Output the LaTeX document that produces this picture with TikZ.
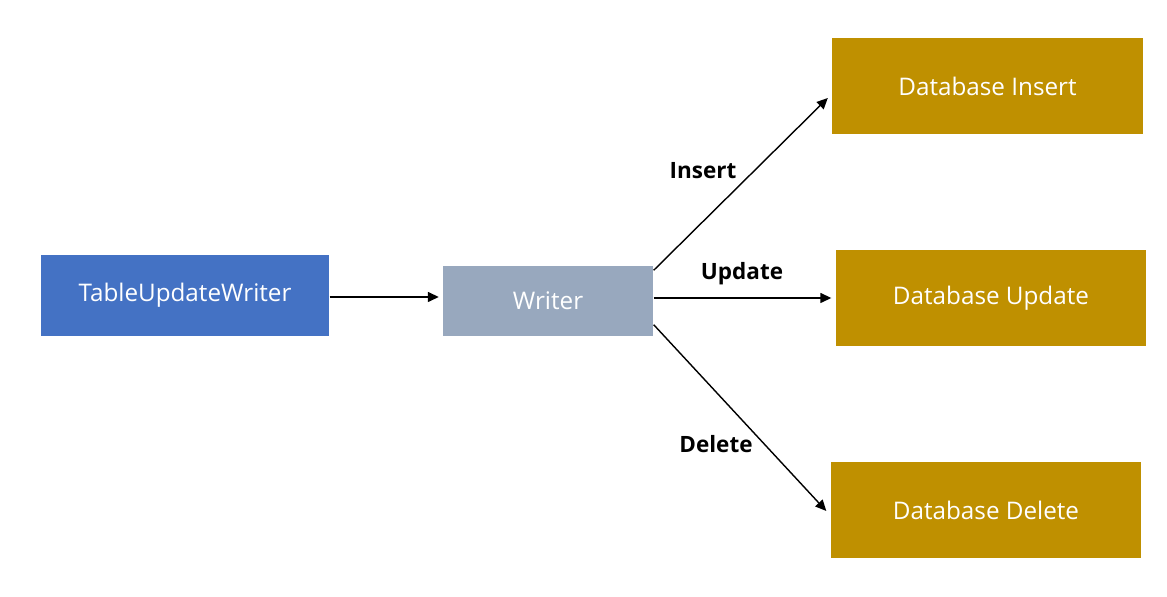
\documentclass[tikz,border=0pt]{standalone}
\usepackage{fontspec}
\setmainfont{Open Sans}
\usetikzlibrary{arrows.meta,positioning}
\definecolor{srcblue}{HTML}{4472C4}
\definecolor{writergray}{HTML}{98A8BE}
\definecolor{dbgold}{HTML}{BF9000}
\tikzset{
  block/.style   = {shape=rectangle, align=center, text=white,
                    font=\fontsize{13.8}{16}\selectfont, inner sep=0pt},
  source/.style  = {block, fill=srcblue, minimum width=5.76cm, minimum height=1.62cm},
  writer/.style  = {block, fill=writergray, minimum width=4.2cm, minimum height=1.4cm},
  target/.style  = {block, fill=dbgold, minimum width=6.22cm, minimum height=1.92cm},
  oplabel/.style = {font=\bfseries\fontsize{12.8}{15}\selectfont}
}

\begin{document}
\begin{tikzpicture}[x=0.02cm,y=-0.02cm,->,>={Triangle[length=0.22cm,width=0.2cm]},thick]
\useasboundingbox (0,0) rectangle (1167,597);
\node [source] (table)  at (185,295.5) {TableUpdateWriter};
\node [writer] (writer) at (548,301)   {Writer};
\node [target] (insert) at (987.5,86)  {Database Insert};
\node [target] (update) at (991,298)   {Database Update};
\node [target] (delete) at (986,510)   {Database Delete};
% operation labels
\node [oplabel] (lblinsert) at (703,171) {Insert};
\node [oplabel] (lblupdate) at (742,274) {Update};
\node [oplabel] (lbldelete) at (716,444) {Delete};
% connectors
\draw ([yshift=-0.03cm]table.east) -- ([yshift=-0.03cm,xshift=-2pt]table.east -| writer.west);
\draw ([yshift=-0.1cm]writer.north east) -- ([yshift=-0.24cm,xshift=-2pt]insert.west);
\draw ([yshift=0.06cm]writer.east) -- ([yshift=0.06cm,xshift=-2pt]writer.east -| update.west);
\draw ([yshift=0.24cm]writer.south east) -- ([yshift=-0.02cm,xshift=-2pt]delete.west);
\end{tikzpicture}
\end{document}
